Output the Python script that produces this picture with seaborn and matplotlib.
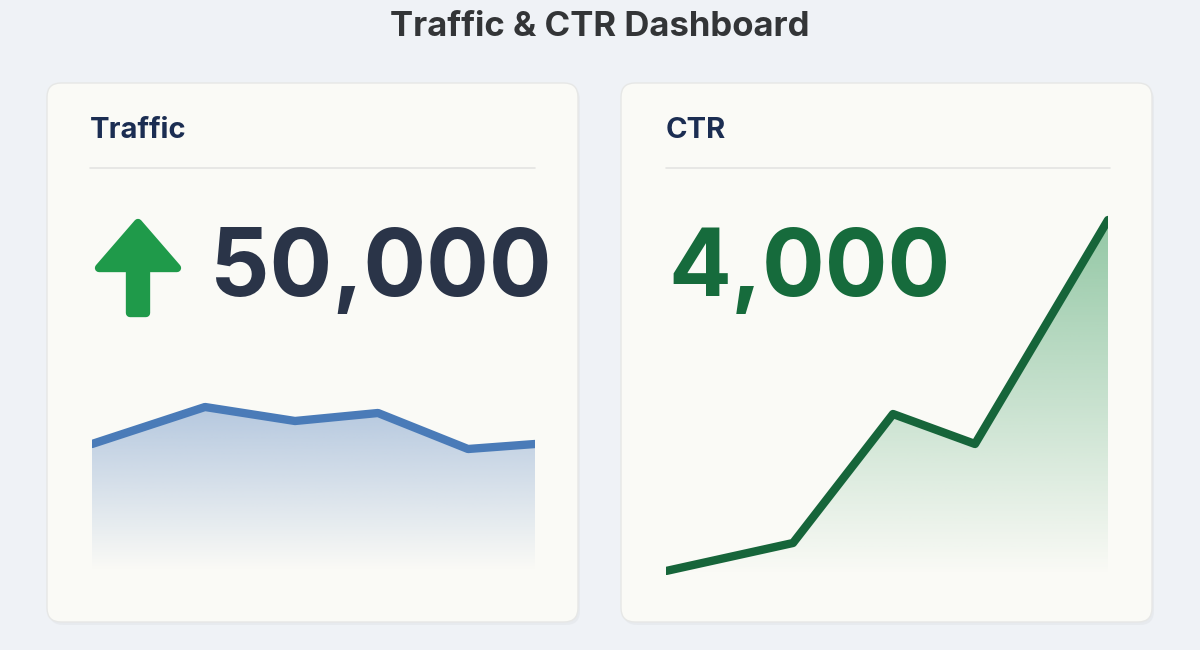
import numpy as np
import pandas as pd
import matplotlib
matplotlib.use("Agg")
import matplotlib.pyplot as plt
import seaborn as sns
from matplotlib.patches import FancyBboxPatch, FancyArrow, Polygon

sns.set_theme(style="white")
plt.rcParams['font.family'] = ['Inter', 'DejaVu Sans']

traffic_x = [0, 1, 2, 3, 4, 5]
traffic_y = [126, 163, 149, 157, 121, 126]
ctr_x = [0, 1, 2, 3, 4]
ctr_y = [4, 32, 161, 131, 355]
ctr_xpos = [0, 127, 227, 309, 442]
traffic_xpos = [0, 113, 203, 286, 376, 443]

W, H = 1200, 650
fig = plt.figure(figsize=(12, 6.5), dpi=100)
fig.patch.set_facecolor('#eff2f6')

def fx(x): return x / W
def fy(y): return 1 - y / H

bg = fig.add_axes([0, 0, 1, 1]); bg.set_xlim(0, W); bg.set_ylim(H, 0); bg.axis('off')
for x0 in (47, 621):
    bg.add_patch(FancyBboxPatch((x0 + 2, 86), 531, 539, boxstyle="round,pad=0,rounding_size=14",
                                fc='#e3e6ea', ec='none', alpha=0.6))
    bg.add_patch(FancyBboxPatch((x0, 83), 531, 539, boxstyle="round,pad=0,rounding_size=14",
                                fc='#fafaf6', ec='#e6e7e6', lw=1))
bg.text(600, 27, "Traffic & CTR Dashboard", ha='center', va='center', fontsize=25, weight='bold', color='#333537')
bg.text(90, 131, "Traffic", ha='left', va='center', fontsize=21, weight='bold', color='#1b2d52')
bg.text(666, 131, "CTR", ha='left', va='center', fontsize=21, weight='bold', color='#1b2d52')
bg.plot([90, 535], [168, 168], color='#e4e4e2', lw=1.2)
bg.plot([666, 1110], [168, 168], color='#e4e4e2', lw=1.2)
bg.add_patch(FancyArrow(138, 313, 0, -90, width=16, head_width=78, head_length=45,
                        length_includes_head=True, fc='#1f9a4a', ec='#1f9a4a', lw=6, joinstyle='round'))
bg.text(210, 272, "50,000", ha='left', va='center', fontsize=67, weight='bold', color='#2a3448')
bg.text(668, 272, "4,000", ha='left', va='center', fontsize=67, weight='bold', color='#166b3c')

def panel(x0, y_top, y_bot, xs, ys, ylim, color, fillc, xw):
    ax = fig.add_axes([fx(x0), fy(y_bot), fx(xw), (y_bot - y_top) / H])
    ax.set_xlim(0, xw); ax.set_ylim(0, ylim); ax.axis('off'); ax.patch.set_alpha(0)
    grad = np.linspace(0, 1, 256)
    rgb = matplotlib.colors.to_rgb(fillc)
    img = np.zeros((256, 1, 4)); img[:, 0, :3] = rgb; img[:, 0, 3] = grad * 0.55
    im = ax.imshow(img, extent=[0, xw, 0, max(ys)], origin='lower', aspect='auto', zorder=1)
    poly = Polygon(list(zip(xs, ys)) + [(xs[-1], 0), (xs[0], 0)], closed=True, transform=ax.transData)
    im.set_clip_path(poly)
    df = pd.DataFrame({'x': xs, 'y': ys})
    sns.lineplot(data=df, x='x', y='y', ax=ax, color=color, lw=6, zorder=3, solid_capstyle='round')
    ax.set_xlim(0, xw); ax.set_ylim(0, ylim); ax.axis('off')

panel(92, 380, 570, traffic_xpos, traffic_y, 190, '#4a7bb8', '#7d9fcc', 443)
panel(666, 215, 575, ctr_xpos, ctr_y, 360, '#16653a', '#3f9e63', 442)

fig.savefig("out.png", dpi=100, facecolor=fig.get_facecolor())
